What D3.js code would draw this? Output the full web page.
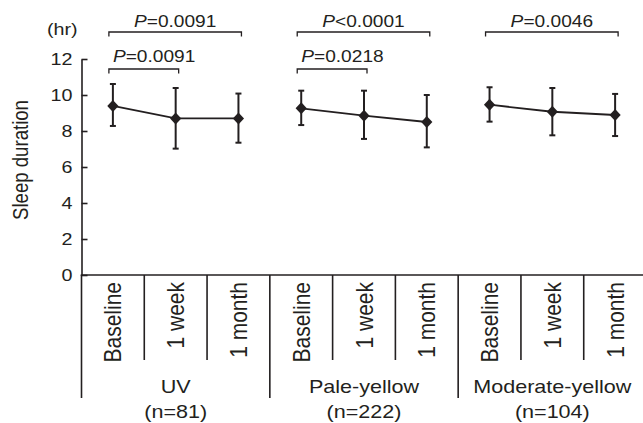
<!DOCTYPE html>
<html lang="en">
<head>
<meta charset="UTF-8">
<title>Sleep duration</title>
<script src="https://d3js.org/d3.v7.min.js"></script>
<style>
  body { margin: 0; background: #fff; }
  svg text { font-family: "Liberation Sans", Arial, sans-serif; fill: #231f20; }
</style>
</head>
<body>
<svg width="643" height="423"></svg>
<script>
// data
const groups = ["UV", "Pale-yellow", "Moderate-yellow"];
const groupN = ["(n=81)", "(n=222)", "(n=104)"];
const timepoints = ["Baseline", "1 week", "1 month"];
const means = [[9.39, 8.70, 8.70], [9.26, 8.85, 8.50], [9.46, 9.07, 8.89]];
const upper = [[10.61, 10.39, 10.08], [10.24, 10.24, 10.00], [10.43, 10.39, 10.06]];
const lower = [[8.28, 7.02, 7.35], [8.33, 7.56, 7.09], [8.52, 7.76, 7.72]];
const yTicks = [0, 2, 4, 6, 8, 10, 12];

// P-value brackets: group, from timepoint, to timepoint, row (0 = top), sign, value
const compGroup = [0, 0, 1, 1, 2];
const compFrom = [0, 0, 0, 0, 0];
const compTo = [2, 1, 2, 1, 2];
const compRow = [0, 1, 0, 1, 0];
const compSign = ["=", "=", "<", "=", "="];
const compValue = ["0.0091", "0.0091", "0.0001", "0.0218", "0.0046"];

const ink = "#231f20";
const SX = 1.16; // the original art is a little wider than tall

const svg = d3.select("svg");
const axisTop = 59, axisBottom = 275, left = 81.5;

const keys = [];
groups.forEach(g => timepoints.forEach(t => keys.push(g + "|" + t)));

const x = d3.scaleBand().domain(keys).range([left, 646.5]).padding(0);
const y = d3.scaleLinear().domain([0, 12]).range([axisBottom, axisTop]);
const cx = (g, t) => x(groups[g] + "|" + timepoints[t]) + x.bandwidth() / 2;

// y axis, ticks pointing inward
const yAxis = svg.append("g")
  .attr("transform", `translate(${left},0)`)
  .call(d3.axisLeft(y).tickValues(yTicks).tickSize(-6).tickSizeOuter(0).tickPadding(9));
yAxis.select(".domain").attr("stroke", ink).attr("stroke-width", 1.6);
yAxis.selectAll(".tick line").attr("stroke", ink).attr("stroke-width", 1.6);
yAxis.selectAll(".tick text")
  .attr("x", 0)
  .attr("transform", `translate(-9,0) scale(${SX},1)`)
  .style("font-size", "17px")
  .style("font-family", "'Liberation Sans', Arial, sans-serif")
  .attr("fill", ink);

svg.append("text")
  .attr("transform", `translate(47,35) scale(${SX},1)`)
  .style("font-size", "17px")
  .text("(hr)");

svg.append("text")
  .attr("transform", `translate(20.5,160) scale(${SX},1) rotate(-90)`)
  .attr("text-anchor", "middle")
  .attr("dy", "0.35em")
  .style("font-size", "18.6px")
  .text("Sleep duration");

// category axis
svg.append("line")
  .attr("x1", left - 0.8).attr("x2", 643)
  .attr("y1", axisBottom).attr("y2", axisBottom)
  .attr("stroke", ink).attr("stroke-width", 1.6);

const edges = d3.range(keys.length + 1).map(i => ({ i, x: left + i * x.bandwidth() }));
svg.selectAll(".divider")
  .data(edges)
  .join("line")
  .attr("class", "divider")
  .attr("x1", d => d.x).attr("x2", d => d.x)
  .attr("y1", axisBottom)
  .attr("y2", d => d.i % timepoints.length === 0 ? 398 : 360)
  .attr("stroke", ink).attr("stroke-width", 1.6);

svg.selectAll(".cat")
  .data(keys)
  .join("text")
  .attr("class", "cat")
  .attr("transform", d => `translate(${x(d) + x.bandwidth() / 2},282) scale(${SX},1) rotate(-90)`)
  .attr("text-anchor", "end")
  .attr("dy", "0.35em")
  .style("font-size", "21px")
  .text(d => d.split("|")[1]);

groups.forEach((g, gi) => {
  const mid = (x(g + "|" + timepoints[0]) + x(g + "|" + timepoints[2]) + x.bandwidth()) / 2;
  svg.append("text")
    .attr("transform", `translate(${mid},393) scale(${SX},1)`)
    .attr("text-anchor", "middle")
    .style("font-size", "18.6px")
    .text(g);
  svg.append("text")
    .attr("transform", `translate(${mid},417.5) scale(${SX},1)`)
    .attr("text-anchor", "middle")
    .style("font-size", "18.6px")
    .text(groupN[gi]);
});

// lines, error bars, diamonds
const line = d3.line().x(d => d[0]).y(d => d[1]);
groups.forEach((g, gi) => {
  const pts = timepoints.map((t, ti) => [cx(gi, ti), y(means[gi][ti])]);
  svg.append("path")
    .attr("d", line(pts))
    .attr("fill", "none")
    .attr("stroke", ink)
    .attr("stroke-width", 1.8);

  timepoints.forEach((t, ti) => {
    const px = cx(gi, ti);
    const bar = svg.append("g").attr("stroke", ink).attr("stroke-width", 2);
    bar.append("line").attr("x1", px).attr("x2", px)
      .attr("y1", y(upper[gi][ti])).attr("y2", y(lower[gi][ti]));
    [upper[gi][ti], lower[gi][ti]].forEach(v => {
      bar.append("line").attr("x1", px - 3).attr("x2", px + 3)
        .attr("y1", y(v)).attr("y2", y(v));
    });
    const py = y(means[gi][ti]);
    svg.append("path")
      .attr("d", `M${px},${py - 6}L${px + 5.6},${py}L${px},${py + 6}L${px - 5.6},${py}Z`)
      .attr("fill", ink);
  });
});

// significance brackets
const rowY = [32, 69];
compGroup.forEach((g, i) => {
  const x1 = cx(g, compFrom[i]) - 4;
  const x2 = cx(g, compTo[i]) + 3;
  const by = rowY[compRow[i]];
  svg.append("path")
    .attr("d", `M${x1},${by + 4.5}V${by}H${x2}V${by + 4.5}`)
    .attr("fill", "none")
    .attr("stroke", ink)
    .attr("stroke-width", 1.3);

  const tx = compRow[i] === 0 ? (x1 + x2) / 2 : x1 + 4;
  const label = svg.append("text")
    .attr("transform", `translate(${tx},${by - (compRow[i] === 0 ? 5 : 7)}) scale(${SX},1)`)
    .attr("text-anchor", compRow[i] === 0 ? "middle" : "start")
    .style("font-size", "16.5px");
  label.append("tspan").style("font-style", "italic").text("P");
  label.append("tspan").text(compSign[i] + compValue[i]);
});
</script>
</body>
</html>
